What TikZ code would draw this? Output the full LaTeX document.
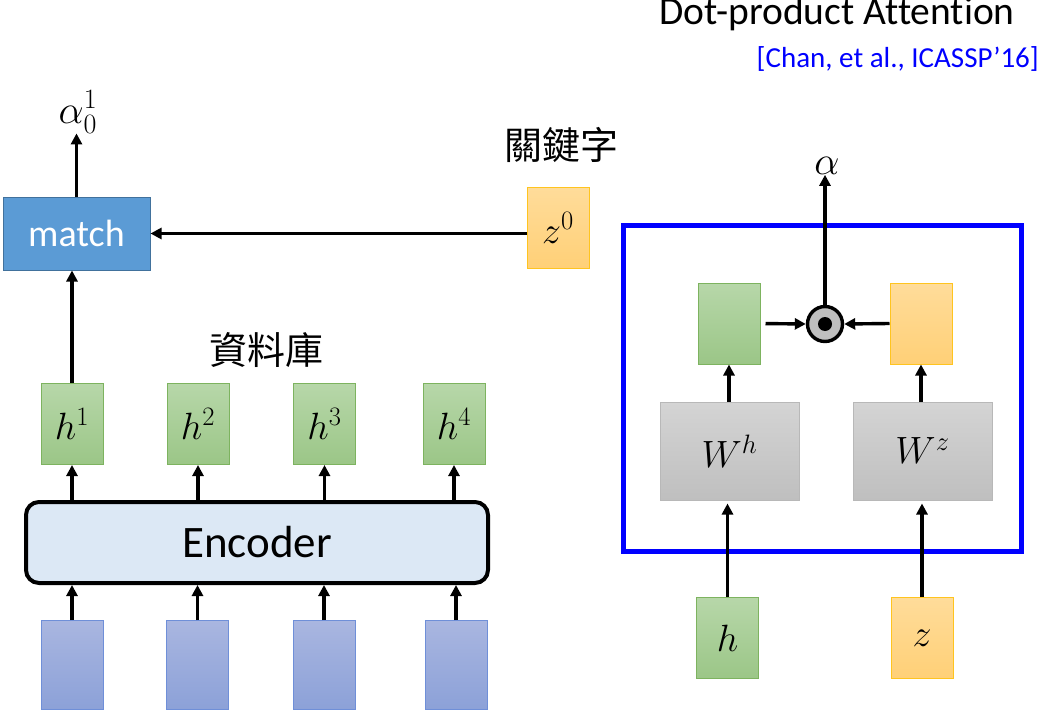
\RequirePackage{fix-cm}
\documentclass[tikz,border=0pt]{standalone}
\usepackage{fontspec}
\setmainfont{Carlito}[Ligatures=NoCommon]
\newfontfamily\cjk{Noto Sans CJK TC}
\usetikzlibrary{arrows.meta,calc}
\definecolor{matchfill}{HTML}{5B9BD5}
\definecolor{matchdraw}{HTML}{41719C}
\definecolor{gtop}{HTML}{B7D7A9}
\definecolor{gbot}{HTML}{9BC687}
\definecolor{gdraw}{HTML}{7DB35F}
\definecolor{otop}{HTML}{FFDC9A}
\definecolor{obot}{HTML}{FFD077}
\definecolor{odraw}{HTML}{FFC41F}
\definecolor{btop}{HTML}{A9B6E0}
\definecolor{bbot}{HTML}{8CA1D8}
\definecolor{bdraw}{HTML}{6F8FD8}
\definecolor{wtop}{HTML}{D4D4D4}
\definecolor{wbot}{HTML}{BFBFBF}
\definecolor{wdraw}{HTML}{B8B8B8}
\definecolor{encfill}{HTML}{DCE8F5}
\definecolor{cite}{HTML}{0000FF}
\tikzset{
  box/.style={rectangle,inner sep=0pt,line width=1pt},
  gbox/.style={box,draw=gdraw,top color=gtop,bottom color=gbot,minimum width=62,minimum height=81},
  obox/.style={box,draw=odraw,top color=otop,bottom color=obot,minimum width=62,minimum height=81},
  bbox/.style={box,draw=bdraw,top color=btop,bottom color=bbot,minimum width=62,minimum height=89},
  wbox/.style={box,draw=wdraw,top color=wtop,bottom color=wbot,minimum width=139,minimum height=98},
  arr/.style={line width=3.4pt,-{Triangle[length=11pt,width=11pt]}},
  mathtxt/.style={font=\fontsize{38}{44}\selectfont},
}
\begin{document}
\begin{tikzpicture}[x=1pt,y=-1pt]
\useasboundingbox (0,0) rectangle (1047,717);
% title
\node[anchor=base east,inner sep=0,font=\fontsize{39.5}{44}\selectfont] (title) at (1015,25) {Dot-product Attention};
\node[anchor=base east,inner sep=0,font=\fontsize{29}{34}\selectfont,text=cite] (cite) at (1039,67) {[Chan, et al., ICASSP’16]};
% left part
\node[box,draw=matchdraw,fill=matchfill,minimum width=147,minimum height=73,text=white,font=\fontsize{38}{44}\selectfont] (match) at (76.5,233.5) {match};
\node[inner sep=0,font=\fontsize{40}{44}\selectfont] (a01) at (78,112) {$\alpha_0^1$};
\node[obox,mathtxt] (z0) at (558,228) {$z^0$};
\node[inner sep=0,font=\cjk\fontsize{38}{44}\selectfont] (kw) at (561,145) {關鍵字};
\node[inner sep=0,font=\cjk\fontsize{38}{44}\selectfont] (db) at (266,350) {資料庫};
\node[gbox,mathtxt] (h1) at (72,424) {$h^1$};
\node[gbox,mathtxt] (h2) at (198,424) {$h^2$};
\node[gbox,mathtxt] (h3) at (324.5,424) {$h^3$};
\node[gbox,mathtxt] (h4) at (454,424) {$h^4$};
\node[rectangle,rounded corners=13pt,draw=black,line width=4pt,fill=encfill,minimum width=462,minimum height=81,font=\fontsize{45}{50}\selectfont] (enc) at (257,542.5) {Encoder};
\node[bbox] (x1) at (72,665) {};
\node[bbox] (x2) at (197.5,665) {};
\node[bbox] (x3) at (324,665) {};
\node[bbox] (x4) at (456,665) {};
\draw[arr] (match.north) -- (match.north |- a01.south);
\draw[arr] (match.east -| z0.west) -- (match.east);
\draw[arr] (h1.north) -- (h1.north |- match.south);
\foreach \i in {1,2,3,4}{
  \draw[arr] (h\i.south |- enc.north) -- (h\i.south);
  \draw[arr] (x\i.north) -- (x\i.north |- enc.south);
}
% right part
\node[rectangle,draw=cite,line width=5pt,minimum width=398,minimum height=326,inner sep=0] (frame) at (822.5,388.5) {};
\node[gbox] (hp) at (729,323.5) {};
\node[obox] (zp) at (921,323.5) {};
\node[circle,draw=black,line width=3.4pt,fill=wbot,minimum size=35,inner sep=0] (dot) at (825,324) {};
\node[circle,fill=black,minimum size=14,inner sep=0] (dotc) at (dot.center) {};
\node[inner sep=0,font=\fontsize{40}{44}\selectfont] (al) at (827,166) {$\alpha$};
\node[wbox,mathtxt] (Wh) at (729.5,451) {$W^h$};
\node[wbox,mathtxt] (Wz) at (922.5,451) {$W^z$};
\node[gbox,mathtxt] (hin) at (727.5,638) {$h$};
\node[obox,mathtxt] (zin) at (922,638) {$z$};
\draw[arr] (dot.north) -- (dot.north |- al.south);
\draw[arr,shorten <=5pt] (hp.east) -- (dot.west);
\draw[arr] (zp.west) -- (dot.east);
\draw[arr] (Wh.north -| hp.south) -- (hp.south);
\draw[arr] (Wz.north -| zp.south) -- (zp.south);
\draw[arr,shorten >=3pt] (hin.north) -- (hin.north |- Wh.south);
\draw[arr,shorten >=3pt] (zin.north) -- (zin.north |- Wz.south);
\end{tikzpicture}
\end{document}
